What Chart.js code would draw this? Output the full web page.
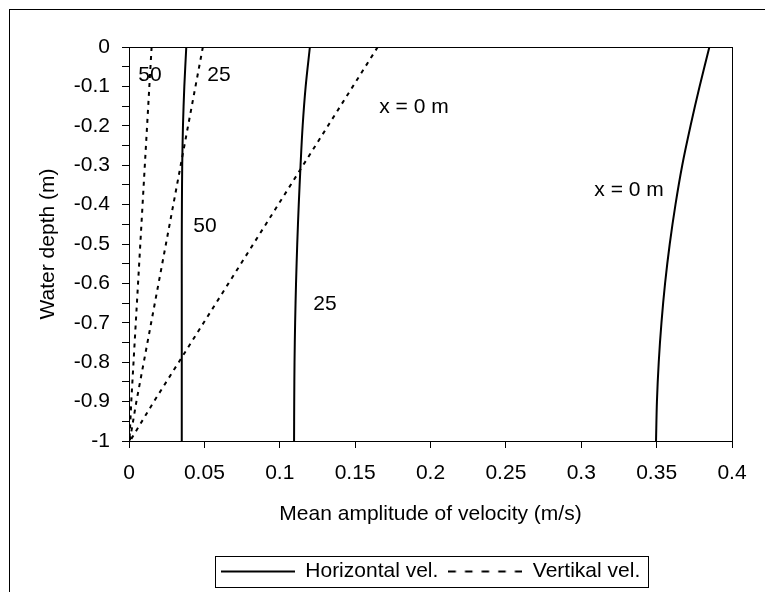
<!DOCTYPE html>
<html><head><meta charset="utf-8">
<script src="https://cdn.jsdelivr.net/npm/chart.js@4.4.0/dist/chart.umd.min.js"></script>
<style>
html,body{margin:0;padding:0;background:#fff;overflow:hidden;}
#wrap{position:relative;width:765px;height:592px;overflow:hidden;}
#frame{position:absolute;left:9px;top:9px;width:900px;height:900px;border:1px solid #000;box-sizing:border-box;pointer-events:none;}
canvas{position:absolute;left:0;top:0;}
</style></head><body>
<div id="wrap"><canvas id="c" width="765" height="592"></canvas><div id="frame"></div></div>
<script>
// Water depth (m) of each sample point
const depth = [0, -0.1, -0.2, -0.3, -0.4, -0.5, -0.6, -0.7, -0.8, -0.9, -1];
// Horizontal velocity amplitude (m/s)
const horX0  = [0.385, 0.3785, 0.3725, 0.367, 0.3625, 0.3587, 0.3556, 0.3532, 0.3514, 0.3502, 0.3496];
const horX25 = [0.120, 0.1172, 0.1152, 0.1138, 0.1126, 0.1116, 0.1108, 0.1102, 0.1098, 0.1096, 0.1095];
const horX50 = [0.038, 0.0367, 0.0358, 0.0353, 0.0351, 0.035, 0.035, 0.035, 0.035, 0.035, 0.035];
// Vertical velocity amplitude (m/s)
const verX0  = [0.165, 0.1485, 0.132, 0.1155, 0.099, 0.0825, 0.066, 0.0495, 0.033, 0.0165, 0.0007];
const verX25 = [0.049, 0.0441, 0.0392, 0.0343, 0.0294, 0.0245, 0.0196, 0.0147, 0.0098, 0.0049, 0.0005];
const verX50 = [0.015, 0.0135, 0.012, 0.0105, 0.009, 0.0075, 0.006, 0.0045, 0.003, 0.0015, 0.0003];
// Axis ticks
const xTickValues = [0, 0.05, 0.1, 0.15, 0.2, 0.25, 0.3, 0.35, 0.4];
const yTickLabels = ['0', '-0.1', '-0.2', '-0.3', '-0.4', '-0.5', '-0.6', '-0.7', '-0.8', '-0.9', '-1'];
// In-plot curve labels (data coordinates)
const labelTexts = ['50', '25', 'x = 0 m', '50', '25', 'x = 0 m'];
const labelXs = [0.0139, 0.0597, 0.189, 0.0504, 0.130, 0.3317];
const labelYs = [-0.072, -0.072, -0.154, -0.456, -0.654, -0.364];

const FONT = '"Liberation Sans", Arial, sans-serif';
const FS = 21;
Chart.defaults.font.family = FONT;
Chart.defaults.font.size = FS;
Chart.defaults.color = '#000';

function pts(xs) { return xs.map((v, i) => ({x: v, y: depth[i]})); }
function solid(label, xs) {
  return {label, data: pts(xs), showLine: true, borderColor: '#000', backgroundColor: '#000',
    borderWidth: 2, pointRadius: 0, tension: 0.3, fill: false};
}
function dashed(label, xs) {
  return {label, data: pts(xs), showLine: true, borderColor: '#000', backgroundColor: '#000',
    borderWidth: 2, borderDash: [4, 5], pointRadius: 0, tension: 0, fill: false};
}

// legend line samples
const LEG_W = 74;
function legendSample(dash) {
  const c = document.createElement('canvas');
  c.width = LEG_W; c.height = 4;
  const g = c.getContext('2d');
  g.strokeStyle = '#000'; g.lineWidth = 2;
  g.setLineDash(dash);
  g.beginPath(); g.moveTo(0, 2); g.lineTo(LEG_W, 2); g.stroke();
  return c;
}
const solidSample = legendSample([]);
const dashSample = legendSample([7.5, 9.125]);

const framePlugin = {
  id: 'framePlugin',
  afterDatasetsDraw(chart) {
    const {ctx, chartArea: a} = chart;
    ctx.save();
    ctx.strokeStyle = '#000'; ctx.lineWidth = 1;
    ctx.strokeRect(Math.round(a.left) + 0.5, Math.round(a.top) + 0.5, Math.round(a.right - a.left), Math.round(a.bottom - a.top));
    ctx.fillStyle = '#000';
    ctx.font = FS + 'px ' + FONT;
    ctx.textAlign = 'center'; ctx.textBaseline = 'middle';
    const xs = chart.scales.x, ys = chart.scales.y;
    labelTexts.forEach((t, i) => ctx.fillText(t, xs.getPixelForValue(labelXs[i]), ys.getPixelForValue(labelYs[i])));
    ctx.restore();
  },
  afterDraw(chart) {
    const lg = chart.legend;
    if (!lg || !lg.legendHitBoxes.length) return;
    const hb = lg.legendHitBoxes;
    const l = Math.min(...hb.map(b => b.left)) - 6;
    const r = Math.max(...hb.map(b => b.left + b.width)) + 8;
    const t = Math.min(...hb.map(b => b.top)) - 5;
    const bt = Math.max(...hb.map(b => b.top + b.height)) + 5;
    const ctx = chart.ctx;
    ctx.save();
    ctx.strokeStyle = '#000'; ctx.lineWidth = 1;
    ctx.strokeRect(Math.round(l) + 0.5, Math.round(t) + 0.5, Math.round(r - l), Math.round(bt - t));
    ctx.restore();
  }
};

new Chart(document.getElementById('c'), {
  type: 'scatter',
  data: {
    datasets: [
      solid('Horizontal vel.', horX0),
      solid('Horizontal vel.', horX25),
      solid('Horizontal vel.', horX50),
      dashed('Vertikal vel.', verX0),
      dashed('Vertikal vel.', verX25),
      dashed('Vertikal vel.', verX50)
    ]
  },
  options: {
    responsive: false,
    animation: false,
    events: [],
    layout: {padding: {left: 0, right: 33, top: 47, bottom: 0}},
    plugins: {
      tooltip: {enabled: false},
      legend: {
        position: 'bottom',
        fullSize: false,
        labels: {
          generateLabels(chart) {
            const ds = chart.data.datasets;
            return [
              {text: ds[0].label, pointStyle: solidSample, fillStyle: '#000', strokeStyle: '#000', lineWidth: 2, datasetIndex: 0, hidden: false, fontColor: '#000'},
              {text: ds[3].label, pointStyle: dashSample, fillStyle: '#000', strokeStyle: '#000', lineWidth: 2, datasetIndex: 3, hidden: false, fontColor: '#000'}
            ];
          },
          usePointStyle: true, pointStyleWidth: LEG_W,
          boxWidth: LEG_W, boxHeight: 4, padding: 10,
          font: {size: FS, family: FONT}, color: '#000'
        }
      }
    },
    scales: {
      x: {
        type: 'linear', min: 0, max: 0.4,
        afterBuildTicks(s) { s.ticks = xTickValues.map(v => ({value: v})); },
        ticks: {autoSkip: false, maxRotation: 0, padding: 13, color: '#000',
          callback: (v) => String(+v.toFixed(2))},
        grid: {display: true, drawOnChartArea: false, drawTicks: true, tickLength: 7, color: '#000', lineWidth: 1},
        border: {display: true, color: '#000', width: 1},
        title: {display: true, text: 'Mean amplitude of velocity (m/s)', color: '#000', font: {size: FS}, padding: {top: 0, bottom: 24}},
        afterFit(s) { s.height = 110; }
      },
      y: {
        type: 'linear', min: -1, max: 0,
        afterBuildTicks(s) {
          const arr = [];
          for (let i = 0; i <= 20; i++) arr.push({value: -i * 0.05});
          s.ticks = arr;
        },
        ticks: {autoSkip: false, padding: 12, color: '#000',
          callback: (v, i) => (i % 2 === 0 ? yTickLabels[i / 2] : '')},
        grid: {display: true, drawOnChartArea: false, drawTicks: true, tickLength: 7, color: '#000', lineWidth: 1},
        border: {display: true, color: '#000', width: 1},
        title: {display: true, text: 'Water depth (m)', color: '#000', font: {size: FS}, padding: {top: 36, bottom: 0}},
        afterFit(s) { s.width = 129; }
      }
    }
  },
  plugins: [framePlugin]
});
</script>
</body></html>
